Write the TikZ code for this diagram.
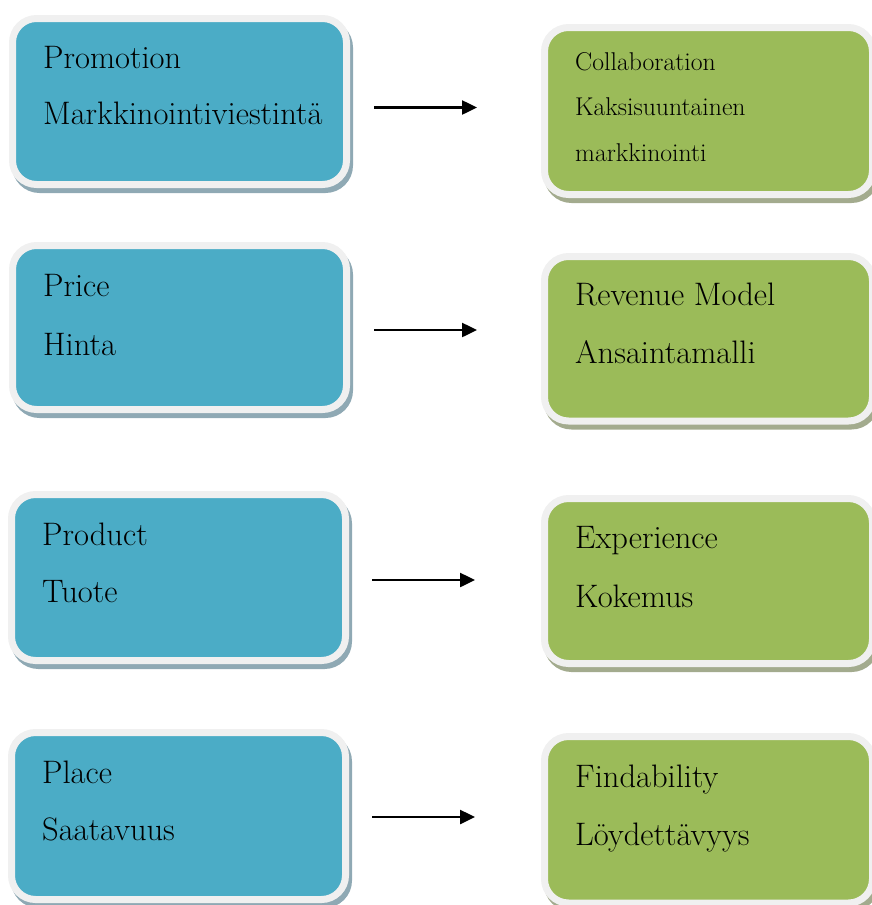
\documentclass[tikz,border=0pt]{standalone}
\usepackage{fontspec}
\usetikzlibrary{shadows,arrows.meta}
\definecolor{bluefill}{HTML}{4BACC6}
\definecolor{greenfill}{HTML}{9BBB59}
\definecolor{framec}{HTML}{F0F0F0}
\definecolor{shblue}{HTML}{8FA9B4}
\definecolor{shgreen}{HTML}{A3AB8E}
\begin{document}
\begin{tikzpicture}[x=1pt,y=-1pt,
  box/.style={rectangle, rounded corners=24pt, draw=framec, line width=7pt,
    inner sep=0pt, outer sep=0pt, anchor=north west},
  bluebox/.style={box, fill=bluefill, drop shadow={shadow xshift=3pt,
    shadow yshift=-5pt, opacity=1, fill=shblue, draw=shblue, line width=7pt}},
  greenbox/.style={box, fill=greenfill, drop shadow={shadow xshift=3pt,
    shadow yshift=-5pt, opacity=1, fill=shgreen, draw=shgreen, line width=7pt}},
  big/.style={font=\fontsize{32.5}{38}\selectfont, inner sep=0pt, anchor=base west},
  small/.style={font=\fontsize{25.7}{30}\selectfont, inner sep=0pt, anchor=base west},
  arr/.style={line width=2.5pt, -{Triangle[length=15pt,width=14pt]}}]
\useasboundingbox (0,0) rectangle (872,905);
\clip (0,0) rectangle (872,905);

% left boxes
\node[bluebox, minimum width=334pt, minimum height=166pt] (L1) at (12.5,18.5) {};
\node[bluebox, minimum width=334pt, minimum height=164pt] (L2) at (12.5,245.5) {};
\node[bluebox, minimum width=334pt, minimum height=166pt] (L3) at (11.5,494.5) {};
\node[bluebox, minimum width=334pt, minimum height=167pt] (L4) at (11.5,732.5) {};

% right boxes
\node[greenbox, minimum width=328pt, minimum height=167pt] (R1) at (544.5,27.5) {};
\node[greenbox, minimum width=328pt, minimum height=164.5pt] (R2) at (544.5,256.5) {};
\node[greenbox, minimum width=328pt, minimum height=165pt] (R3) at (544.5,498.5) {};
\node[greenbox, minimum width=328pt, minimum height=166.5pt] (R4) at (544.5,736.5) {};

% left texts
\node[big] (t1a) at (43,68) {Promotion};
\node[big] (t1b) at (43,124) {Markkinointiviestintä};
\node[big] (t2a) at (43,296) {Price};
\node[big] (t2b) at (43,355) {Hinta};
\node[big] (t3a) at (42,545) {Product};
\node[big] (t3b) at (42,602) {Tuote};
\node[big] (t4a) at (42,783) {Place};
\node[big] (t4b) at (42,840) {Saatavuus};

% right texts
\node[small] (r1a) at (575,70) {Collaboration};
\node[small] (r1b) at (575,115) {Kaksisuuntainen};
\node[small] (r1c) at (575,161) {markkinointi};
\node[big] (r2a) at (575,305) {Revenue Model};
\node[big] (r2b) at (575,363) {Ansaintamalli};
\node[big] (r3a) at (575,548) {Experience};
\node[big] (r3b) at (575,607) {Kokemus};
\node[big] (r4a) at (575,787) {Findability};
\node[big] (r4b) at (575,845) {Löydettävyys};

% arrows
\coordinate (a1s) at (374,107.5);
\coordinate (a1e) at (477,107.5);
\coordinate (a2s) at (374,330);
\coordinate (a2e) at (477,330);
\coordinate (a3s) at (372,580);
\coordinate (a3e) at (475,580);
\coordinate (a4s) at (372,817);
\coordinate (a4e) at (475,817);
\draw[arr] (a1s) -- (a1e);
\draw[arr] (a2s) -- (a2e);
\draw[arr] (a3s) -- (a3e);
\draw[arr] (a4s) -- (a4e);
\end{tikzpicture}
\end{document}
